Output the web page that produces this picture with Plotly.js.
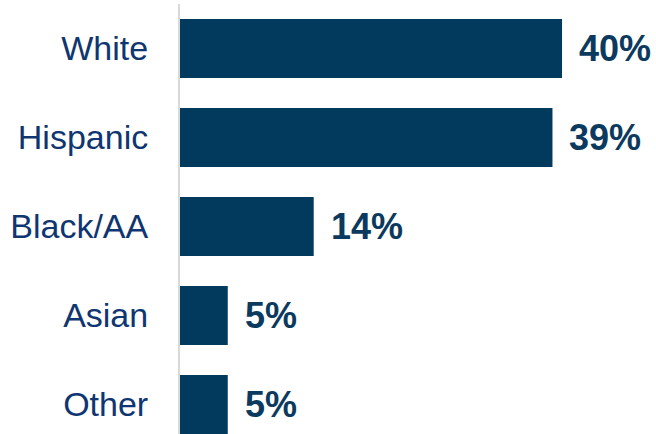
<!DOCTYPE html>
<html>
<head>
<meta charset="utf-8">
<script src="https://cdn.plot.ly/plotly-3.0.1.min.js"></script>
<style>html,body{margin:0;padding:0;background:#fff;}#chart{width:656px;height:434px;}</style>
</head>
<body>
<div id="chart"></div>
<script>
const categories = ['White', 'Hispanic', 'Black/AA', 'Asian', 'Other'];
const values = [40, 39, 14, 5, 5];
const labels = ['40%', '39%', '14%', '5%', '5%'];

const barColor = '#023a5d';
const tickColor = '#0f3671';
const valueColor = '#0b3a5e';

const trace = {
  type: 'bar',
  orientation: 'h',
  y: categories,
  x: values,
  marker: {color: barColor, line: {width: 0}},
  hoverinfo: 'skip'
};

const annotations = categories.map((c, i) => ({
  x: values[i], y: c, xref: 'x', yref: 'y',
  text: '<b>' + labels[i] + '</b>',
  showarrow: false, xanchor: 'left', yanchor: 'middle',
  xshift: 15,
  font: {family: 'Liberation Sans, Arial, sans-serif', size: 36, color: valueColor}
}));

const layout = {
  width: 656, height: 434,
  margin: {l: 180, r: 0, t: 4, b: 0, pad: 0},
  paper_bgcolor: '#ffffff', plot_bgcolor: '#ffffff',
  bargap: 0.337,
  showlegend: false,
  xaxis: {range: [0, 49.84], showgrid: false, zeroline: false, showticklabels: false, showline: false, fixedrange: true},
  yaxis: {
    type: 'category',
    range: [4.331, -0.5],
    showgrid: false, zeroline: false,
    showline: true, linecolor: '#d9d9d9', linewidth: 2,
    ticks: '', ticklabelstandoff: 23,
    tickfont: {family: 'Liberation Sans, Arial, sans-serif', size: 34, color: tickColor},
    fixedrange: true
  },
  annotations: annotations
};

Plotly.newPlot('chart', [trace], layout, {displayModeBar: false, staticPlot: true});
</script>
</body>
</html>
